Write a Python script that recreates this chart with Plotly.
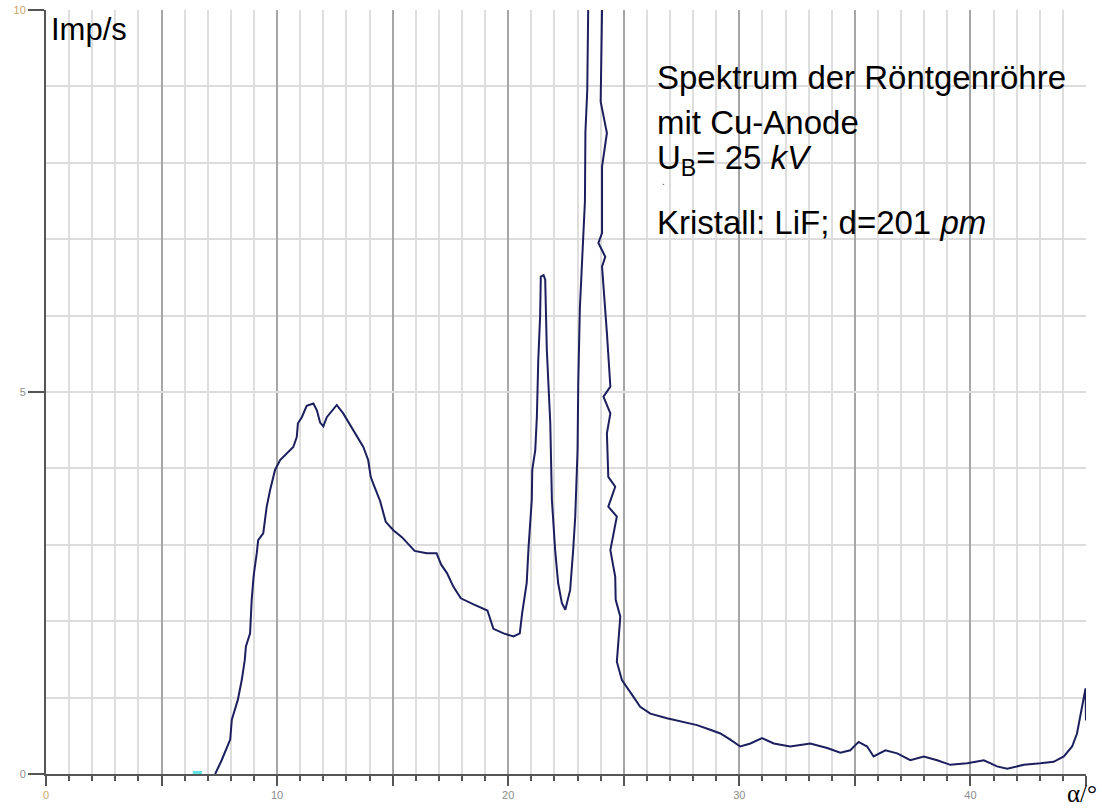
import plotly.graph_objects as go

# Spectrum trace (angle in degrees, counts Imp/s)
alpha = [7.32, 7.6, 7.97, 8.04, 8.3, 8.47, 8.6, 8.65, 8.83, 8.86, 8.9, 8.97, 9.0, 9.12, 9.18,
         9.4, 9.48, 9.55, 9.7, 9.83, 9.91, 10.13, 10.42, 10.7, 10.85, 10.9, 11.07, 11.28, 11.57,
         11.72, 11.86, 12.0, 12.15, 12.58, 12.86, 13.3, 13.73, 13.94, 14.05, 14.16, 14.46, 14.7,
         15.03, 15.4, 15.95, 16.48, 16.9, 17.1, 17.35, 17.63, 17.95, 18.5, 19.1, 19.36, 19.8,
         20.23, 20.5, 20.6, 20.8, 20.88, 21.02, 21.04, 21.17, 21.24, 21.3, 21.38, 21.41, 21.53,
         21.6, 21.67, 21.82, 21.89, 22.03, 22.16, 22.32, 22.47, 22.54, 22.68, 22.81, 22.9, 23.0,
         23.03, 23.1, 23.25, 23.32, 23.34, 23.42, 23.46, 23.7, 24.06, 24.0, 24.27, 24.06, 24.06,
         23.9, 24.2, 24.06, 24.27, 24.42, 24.12, 24.42, 24.27, 24.33, 24.63, 24.33, 24.7, 24.42,
         24.63, 24.65, 24.85, 24.77, 24.7, 24.92, 25.14, 25.42, 25.71, 26.15, 26.87, 27.59, 28.17,
         28.74, 29.18, 29.61, 30.04, 30.48, 30.98, 31.49, 32.2, 33.07, 33.8, 34.37, 34.8, 35.16,
         35.53, 35.81, 36.32, 36.83, 37.4, 37.98, 38.56, 39.13, 39.86, 40.58, 41.15, 41.59, 42.31,
         43.03, 43.6, 44.04, 44.4, 44.61, 44.76, 44.9, 44.98, 45.0, 45.0]
imp = [0.0, 0.18, 0.45, 0.71, 0.97, 1.23, 1.49, 1.67, 1.84, 2.1, 2.28, 2.54, 2.63, 2.89, 3.06,
       3.15, 3.32, 3.5, 3.72, 3.89, 3.98, 4.11, 4.2, 4.28, 4.41, 4.59, 4.67, 4.82, 4.85,
       4.76, 4.6, 4.55, 4.67, 4.83, 4.72, 4.5, 4.28, 4.11, 3.89, 3.8, 3.57, 3.3,
       3.19, 3.1, 2.92, 2.89, 2.89, 2.74, 2.63, 2.45, 2.3, 2.22, 2.14, 1.9, 1.84,
       1.8, 1.84, 2.1, 2.5, 2.97, 3.59, 3.98, 4.24, 4.68, 5.42, 5.99, 6.51, 6.53,
       6.47, 5.55, 4.59, 3.59, 2.93, 2.5, 2.24, 2.15, 2.24, 2.41, 2.93, 3.37, 4.24,
       5.11, 6.1, 7.0, 7.5, 8.4, 8.95, 10.0, 13.0, 10.0, 8.8, 8.39, 7.95, 7.08,
       6.95, 6.77, 6.64, 5.77, 5.07, 4.94, 4.72, 4.46, 3.89, 3.76, 3.5, 3.37, 2.93,
       2.58, 2.28, 2.06, 1.75, 1.47, 1.23, 1.14, 1.01, 0.88, 0.79, 0.73, 0.68, 0.64,
       0.58, 0.53, 0.45, 0.36, 0.40, 0.47, 0.40, 0.36, 0.40, 0.34, 0.28, 0.31, 0.42,
       0.36, 0.23, 0.31, 0.27, 0.18, 0.23, 0.18, 0.12, 0.14, 0.18, 0.10, 0.07, 0.12,
       0.14, 0.16, 0.23, 0.36, 0.53, 0.75, 0.97, 1.12, 0.7, 1.1]

marker_x = [6.35, 6.75]
marker_y = [0.02, 0.02]

x_tickvals = [0, 5, 10, 15, 20, 25, 30, 35, 40, 45]
x_ticktext = ['<span style="color:#c9a56a">0</span>', '', '10', '', '20', '', '30', '', '40', '']
y_tickvals = [0, 5, 10]
y_ticktext = ['0', '5', '<span style="color:#c9a56a">10</span>']

fig = go.Figure()
fig.add_trace(go.Scatter(x=marker_x, y=marker_y, mode='lines',
                         line=dict(color='#5fe3e8', width=3), hoverinfo='skip'))
fig.add_trace(go.Scatter(x=alpha, y=imp, mode='lines',
                         line=dict(color='#1b1f5e', width=2)))

axis_col = '#555555'
fig.update_layout(
    width=1102, height=811,
    margin=dict(l=46, r=16, t=10, b=37, autoexpand=False),
    paper_bgcolor='white', plot_bgcolor='white',
    showlegend=False,
    font=dict(family='Liberation Sans, Arial, sans-serif'),
    xaxis=dict(range=[0, 45], tickvals=x_tickvals, ticktext=x_ticktext, automargin=False,
               ticks='outside', ticklen=10, tickwidth=2, tickcolor=axis_col,
               showgrid=True, gridcolor='#a6a6a6', gridwidth=1.5,
               showline=True, linecolor=axis_col, linewidth=2, zeroline=False,
               tickfont=dict(size=11, color='#8c8c8c'),
               minor=dict(tick0=0, dtick=1, ticks='outside', ticklen=5, tickwidth=2,
                          tickcolor=axis_col, showgrid=True, gridcolor='#dedede', gridwidth=1.5)),
    yaxis=dict(range=[0, 10], tickvals=y_tickvals, ticktext=y_ticktext, automargin=False,
               ticks='outside', ticklen=16, tickwidth=2, tickcolor=axis_col,
               showgrid=True, gridcolor='#dcdcdc', gridwidth=1.5,
               showline=True, linecolor=axis_col, linewidth=2, zeroline=False,
               tickfont=dict(size=11, color='#8c8c8c'),
               minor=dict(tick0=0, dtick=1, showgrid=True, gridcolor='#dcdcdc', gridwidth=1.5)),
)

txt_font = dict(family='Liberation Sans, Arial, sans-serif', size=33, color='black')
ann = [
    dict(text='Imp/s', x=0.003, y=0.974, xanchor='left', font=dict(family='Liberation Sans, Arial, sans-serif', size=31, color='black')),
    dict(text='Spektrum der Röntgenröhre', x=0.586, y=0.911, xanchor='left', font=txt_font),
    dict(text='mit Cu-Anode', x=0.586, y=0.853, xanchor='left', font=txt_font),
    dict(text='U<sub>B</sub>= 25 <i>kV</i>', x=0.586, y=0.804, xanchor='left', font=txt_font),
    dict(text='.', x=0.590, y=0.775, xanchor='left', font=dict(size=10, color='#444')),
    dict(text='Kristall: LiF; d=201 <i>pm</i>', x=0.586, y=0.7225, xanchor='left', font=txt_font),
    dict(text='α/°', x=1.0125, y=-0.026, xanchor='right', font=dict(family='Liberation Serif, Times New Roman, serif', size=25, color='black')),
]
for a in ann:
    fig.add_annotation(xref='paper', yref='paper', yanchor='middle',
                       showarrow=False, **a)

fig.write_html('out.html', config={'displayModeBar': False},
               post_script="document.body.style.margin='0';document.body.style.overflow='hidden';")
